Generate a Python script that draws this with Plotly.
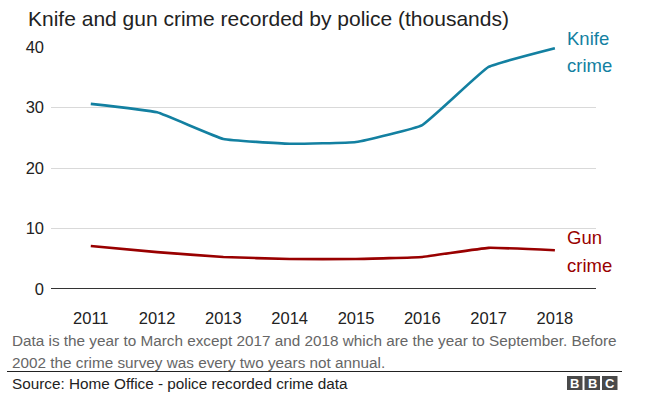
import plotly.graph_objects as go

years = [2011, 2012, 2013, 2014, 2015, 2016, 2017, 2018]
knife = [30.6, 29.2, 24.8, 24.0, 24.3, 27.1, 36.7, 39.8]
gun = [7.1, 6.1, 5.3, 4.95, 4.95, 5.3, 6.8, 6.4]
y_ticks = [0, 10, 20, 30, 40]

title = "Knife and gun crime recorded by police (thousands)"
note_lines = ["Data is the year to March except 2017 and 2018 which are the year to September. Before",
              "2002 the crime survey was every two years not annual."]
source = "Source: Home Office - police recorded crime data"

KNIFE_C = "#1380A1"
GUN_C = "#990000"
FONT = "Liberation Sans, Arial, Helvetica, sans-serif"

W, H = 656, 393
L, R, T, B = 51, 60, 47, 104
PW, PH = W - L - R, H - T - B


def px(x):
    return (x - L) / PW


def py(y):
    return (H - B - y) / PH


fig = go.Figure()
fig.add_trace(go.Scatter(x=years, y=knife, mode="lines",
                         line=dict(color=KNIFE_C, width=2.6, shape="spline", smoothing=0.3),
                         cliponaxis=False, hoverinfo="skip"))
fig.add_trace(go.Scatter(x=years, y=gun, mode="lines",
                         line=dict(color=GUN_C, width=2.6, shape="spline", smoothing=0.3),
                         cliponaxis=False, hoverinfo="skip"))

fig.update_layout(
    width=W, height=H,
    margin=dict(l=L, r=R, t=T, b=B, pad=0),
    paper_bgcolor="white", plot_bgcolor="white",
    showlegend=False,
    font=dict(family=FONT, color="#222222", size=16),
    xaxis=dict(range=[2010.4, 2018.62], tickvals=years, ticktext=[str(y) for y in years],
               showgrid=False, zeroline=False, showline=False,
               ticks="outside", ticklen=14, tickcolor="rgba(0,0,0,0)",
               tickfont=dict(size=16.5, color="#222222")),
    yaxis=dict(range=[0, 40], tickvals=y_ticks, showgrid=True, gridcolor="#d9d9d9", gridwidth=1,
               zeroline=False, showline=False, ticks="", ticklabelstandoff=6,
               tickfont=dict(size=16.5, color="#222222")),
)

# zero baseline
fig.add_shape(type="line", xref="paper", yref="y", x0=0, x1=1, y0=0, y1=0,
              line=dict(color="#333333", width=2), layer="above")

# title
fig.add_annotation(text=title, xref="paper", yref="paper", x=px(26), y=py(19),
                   xanchor="left", yanchor="middle", showarrow=False,
                   font=dict(size=21, color="#222222", family=FONT))

# series labels
for txt, ypix, col in [("Knife", 38.5, KNIFE_C), ("crime", 65.5, KNIFE_C),
                       ("Gun", 237.5, GUN_C), ("crime", 265.5, GUN_C)]:
    fig.add_annotation(text=txt, xref="paper", yref="paper", x=px(565), y=py(ypix),
                       xanchor="left", yanchor="middle", showarrow=False,
                       font=dict(size=18.5, color=col, family=FONT))

# footnote
for i, line in enumerate(note_lines):
    fig.add_annotation(text=line, xref="paper", yref="paper", x=px(10), y=py(340 + 22 * i),
                       xanchor="left", yanchor="middle", showarrow=False,
                       font=dict(size=15.3, color="#666666", family=FONT))

# separator line
fig.add_shape(type="line", xref="paper", yref="paper", x0=px(7), x1=px(622),
              y0=py(371.5), y1=py(371.5), line=dict(color="#222222", width=1))

# source
fig.add_annotation(text=source, xref="paper", yref="paper", x=px(10), y=py(383.5),
                   xanchor="left", yanchor="middle", showarrow=False,
                   font=dict(size=15.3, color="#222222", family=FONT))

# BBC logo
for i, letter in enumerate("BBC"):
    x0p = 567 + i * 17.5
    fig.add_shape(type="rect", xref="paper", yref="paper",
                  x0=px(x0p), x1=px(x0p + 15.5), y0=py(390), y1=py(376),
                  fillcolor="#4a4a4a", line=dict(width=0))
    fig.add_annotation(text="<b>" + letter + "</b>", xref="paper", yref="paper",
                       x=px(x0p + 7.75), y=py(383), xanchor="center", yanchor="middle",
                       showarrow=False, font=dict(size=13, color="white", family=FONT))

fig.write_html("out.html", config={"displayModeBar": False},
               post_script="document.body.style.margin='0px';document.body.style.padding='0px';")
